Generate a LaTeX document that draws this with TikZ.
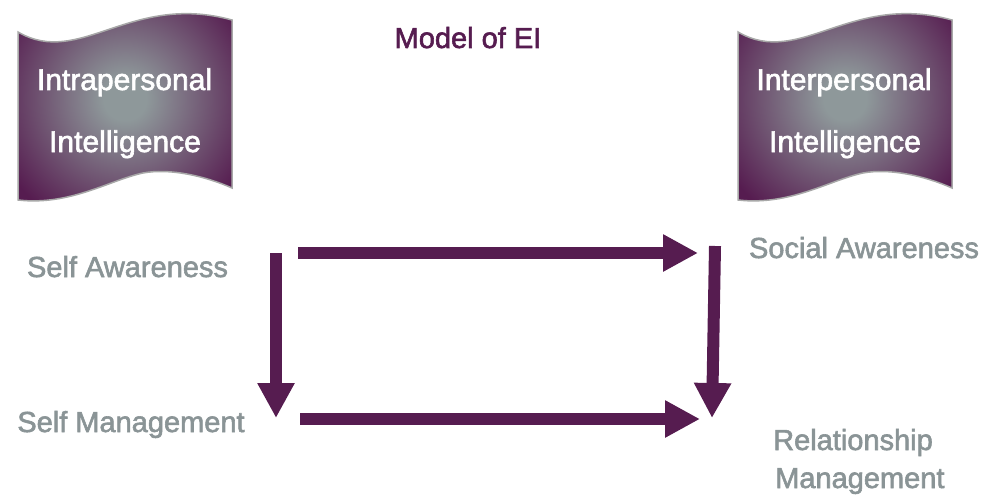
\documentclass[tikz,border=0pt]{standalone}
\usepackage{fontspec}
\setmainfont{Liberation Sans}
\newfontfamily\medfont[FakeBold=2]{Liberation Sans}
\usetikzlibrary{arrows.meta}
\definecolor{eipurple}{HTML}{561C50}
\definecolor{eigray}{HTML}{8A9496}
\definecolor{bancenter}{HTML}{8E989A}
\definecolor{banedge}{HTML}{A8A8A8}
\pgfdeclareradialshading{bannershade}{\pgfpoint{0bp}{0bp}}{color(0bp)=(bancenter); color(5bp)=(bancenter); color(32bp)=(eipurple); color(50bp)=(eipurple)}
\begin{document}
\begin{tikzpicture}[x=1pt,y=-1pt,
  banner/.style={shading=bannershade, draw=banedge, line width=1.5pt},
  bantext/.style={text=white, font=\medfont\fontsize{30}{36}\selectfont, anchor=base, inner sep=0pt},
  label/.style={text=eigray, font=\medfont\fontsize{29}{35}\selectfont, anchor=base, inner sep=0pt},
  title/.style={text=eipurple, font=\medfont\fontsize{29}{35}\selectfont, anchor=base, inner sep=0pt},
  bigarrow/.style={draw=eipurple, line width=12pt, -{Triangle[length=35pt,width=35pt]}}]
\useasboundingbox (0,0) rectangle (984,500);
% banners
\foreach \dx in {0,720}{
  \path[banner, xshift=\dx] (18,32) .. controls (80,68) and (130,-8) .. (232,20)
    -- (232,188) .. controls (205,176) and (170,168) .. (143,173)
    .. controls (110,180) and (70,206) .. (18,200) -- cycle;
}
\node[bantext] (intra1) at (124.5,90) {Intrapersonal};
\node[bantext] (intra2) at (125,152) {Intelligence};
\node[bantext] (inter1) at (844,90) {Interpersonal};
\node[bantext] (inter2) at (845,152) {Intelligence};
\node[title] (title) at (468,48) {Model of EI};
% labels
\node[label] (sa) at (127.5,277) {Self Awareness};
\node[label] (soa) at (864,258) {Social Awareness};
\node[label] (sm) at (131,432) {Self Management};
\node[label, anchor=base west] (rm1) at (773,450) {Relationship};
\node[label, anchor=base west] (rm2) at (775,488) {Management};
% arrow end points
\coordinate (topS) at (298,253);
\coordinate (topE) at (698,253);
\coordinate (botS) at (300,419);
\coordinate (botE) at (700,419);
\coordinate (leftS) at (276,253);
\coordinate (leftE) at (276,418);
\coordinate (rightS) at (715,246);
\coordinate (rightE) at (712,418);
\draw[bigarrow] (topS) -- (topE);
\draw[bigarrow] (botS) -- (botE);
\draw[bigarrow] (leftS) -- (leftE);
\draw[bigarrow] (rightS) -- (rightE);
\end{tikzpicture}
\end{document}
